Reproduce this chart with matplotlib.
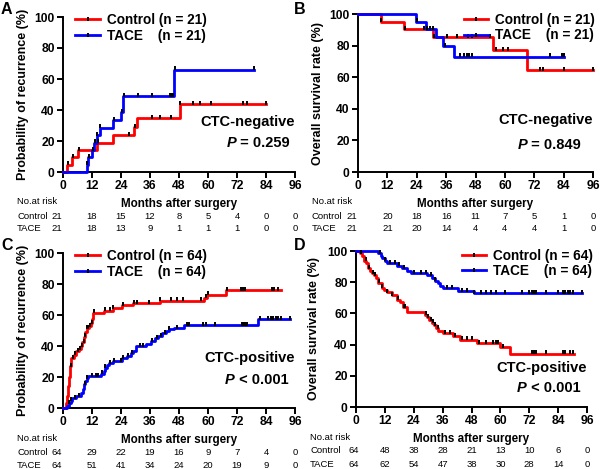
import numpy as np
import matplotlib
matplotlib.use("Agg")
from matplotlib import pyplot as plt
from matplotlib.lines import Line2D
from matplotlib import transforms

plt.rcParams['font.family'] = ['Liberation Sans', 'DejaVu Sans']

months_ticks = [0, 12, 24, 36, 48, 60, 72, 84, 96]

# A: recurrence, CTC-negative
a_ctrl_t = [0, 1.5, 3.8, 6.3, 14.2, 20.5, 29.5, 30.8, 48.3, 84]
a_ctrl_v = [0, 4.8, 9.5, 14.3, 19.0, 23.8, 29.0, 34.9, 43.6, 43.6]
a_ctrl_cens = [2, 4, 6.6, 14.3, 27.5, 29.8, 37, 40, 44.7, 48.5, 53.6, 56.7, 61.2, 74.6, 76, 84]
a_tace_t = [0, 9.8, 10.5, 12.1, 13.0, 13.9, 15.3, 20.8, 24.2, 25.0, 46.0, 79]
a_tace_v = [0, 4.8, 9.5, 14.3, 19.0, 23.8, 28.6, 33.3, 38.5, 49.0, 66.0, 66.0]
a_tace_cens = [10, 10.7, 12.3, 13.2, 14.1, 15.5, 21, 24.4, 25.2, 31, 37, 44.3, 45, 45.7, 46.4, 79]

# B: survival, CTC-negative
b_ctrl_t = [0, 9.3, 18.9, 30.8, 55.3, 68.9, 96]
b_ctrl_v = [100, 95.2, 90.5, 85.5, 77.2, 64.3, 64.3]
b_ctrl_cens = [9.5, 19.4, 27, 29.4, 31.2, 36.5, 40.4, 45.1, 46.5, 53.9, 56.3, 59.3, 61.3, 74.4, 75.6, 84.1, 96]
b_tace_t = [0, 23.7, 27.8, 31.9, 34.9, 39.2, 84.3]
b_tace_v = [100, 95.2, 90.5, 85.5, 79.5, 73.0, 73.0]
b_tace_cens = [24, 28, 30.5, 35.5, 41.5, 43.5, 44.5, 45.5, 46.5, 78.4, 83.3, 84.3]

# C: recurrence, CTC-positive
c_ctrl_t = [0, 1.2, 1.8, 2.2, 2.6, 3.0, 3.5, 4.5, 5.5, 6.5, 7.3, 8.0, 8.7, 9.3, 10.0,
            10.8, 11.5, 12.2, 12.6, 17.0, 20.5, 24.5, 29.0, 40.0, 58.5, 59.5, 67.5, 90]
c_ctrl_v = [0, 3, 8, 14, 20, 27, 32, 34.5, 36.5, 38, 40, 42.5, 46, 49, 51.5,
            53, 55, 57.5, 61.5, 62.8, 64.5, 66.2, 67.8, 69.3, 71.2, 73.2, 76.0, 76.0]
c_ctrl_cens = [3.3, 4, 5, 6, 7, 7.7, 8.5, 9.2, 10, 10.5, 11.3, 12, 12.8, 17.2, 19.5, 20.7,
               25, 29.5, 30.5, 35.5, 40.2, 44.5, 47, 49.5, 57, 59, 60, 68, 73.5, 74.5,
               75.5, 86.5, 87.5, 89]
c_tace_t = [0, 1.5, 2.5, 3.2, 3.8, 5.5, 7.5, 8.3, 8.8, 9.3, 9.8, 10.3, 15.8, 16.8, 17.5,
            18.3, 19.0, 20.5, 24.5, 26.5, 28.0, 29.0, 30.0, 34.5, 36.5, 38.0, 39.5, 41.0,
            42.5, 44.0, 46.0, 50.0, 80.8, 94]
c_tace_v = [0, 1.6, 3.2, 4.8, 6.3, 7.9, 9.5, 12.5, 15.5, 17.5, 19.2, 20.6, 22.2, 24.0, 26.0,
            27.6, 28.8, 30.4, 32.0, 33.6, 35.2, 37.0, 40.0, 41.6, 43.3, 45.0, 46.6, 48.2,
            49.8, 50.8, 51.6, 53.5, 57.2, 57.2]
c_tace_cens = [2.5, 3.5, 5, 6.5, 9, 10, 12, 13.5, 14.5, 16, 17.5, 19.5, 21, 24, 25, 27,
               28.5, 32, 33, 37, 39, 40.5, 42, 44, 47, 51.5, 52, 58, 59, 63, 74, 74.5, 75,
               75.5, 76, 81.5, 85, 86, 87, 88, 89, 90, 94]

# D: survival, CTC-positive
d_ctrl_t = [0, 1.7, 2.5, 3.3, 4.2, 5.1, 6.0, 6.8, 7.6, 8.4, 9.3, 10.7, 11.8, 12.8, 14.8,
            16.9, 18.3, 19.6, 21.0, 28.7, 29.6, 30.5, 31.5, 32.3, 33.2, 34.2, 36.0, 40.4,
            43.2, 50.1, 59.9, 64.0, 90.6]
d_ctrl_v = [100, 98.4, 96.9, 93.8, 92.2, 89.1, 87.5, 85.9, 84.4, 82.8, 79.7, 76.6, 75.0,
            73.4, 71.9, 68.8, 67.2, 64.0, 60.9, 59.2, 57.5, 55.8, 54.1, 52.4, 50.7, 48.9,
            47.2, 45.3, 43.2, 40.8, 38.5, 34.2, 34.2]
d_ctrl_cens = [2, 4, 5.5, 7, 8, 9.5, 11, 13, 15, 17.5, 19.8, 20.5, 29, 30, 31, 32, 33, 34,
               37, 39, 41, 44, 46, 48, 51, 54, 57, 58, 59, 61, 73, 74, 75, 79, 86, 87, 89, 90]
d_tace_t = [0, 9.3, 10.2, 11.0, 12.0, 13.0, 17.0, 19.0, 21.0, 23.0, 29.5, 31.5, 33.0, 34.0,
            35.0, 36.0, 42.5, 49.0, 94]
d_tace_v = [100, 98.4, 96.9, 95.3, 93.8, 92.2, 90.6, 89.1, 87.5, 85.9, 84.3, 82.6, 81.0,
            79.4, 77.8, 76.1, 74.5, 72.8, 72.8]
d_tace_cens = [10, 12, 14, 16, 18, 20, 24, 27, 29, 31, 33, 38, 40, 44, 46, 49, 52, 54, 56,
               58, 62, 69, 72, 73, 74, 75, 79, 84, 86, 87, 88, 89, 90, 94]

# numbers at risk
a_risk_ctrl = [21, 18, 15, 12, 8, 5, 4, 0, 0]
a_risk_tace = [21, 18, 13, 9, 1, 1, 1, 0, 0]
b_risk_ctrl = [21, 20, 18, 16, 11, 7, 5, 1, 0]
b_risk_tace = [21, 21, 20, 14, 4, 4, 4, 1, 0]
c_risk_ctrl = [64, 29, 22, 19, 16, 9, 7, 4, 0]
c_risk_tace = [64, 51, 41, 34, 24, 20, 19, 9, 0]
d_risk_ctrl = [64, 48, 38, 28, 21, 13, 10, 6, 0]
d_risk_tace = [64, 62, 54, 47, 38, 30, 28, 14, 0]

RED = '#ff0000'
BLUE = '#0000ff'

fig = plt.figure(figsize=(6, 4.69), dpi=100)
W, H = 600.0, 469.0


def px_axes(x0, x1, ytop, ybot):
    return fig.add_axes([x0 / W, 1 - ybot / H, (x1 - x0) / W, (ybot - ytop) / H])


def step_val(t, v, x):
    i = np.searchsorted(t, x, side='right') - 1
    return np.array(v)[np.clip(i, 0, len(v) - 1)]


def draw_curve(ax, t, v, cens, color):
    ax.step(t, v, where='post', color=color, lw=2.0, zorder=3, clip_on=False)
    ax.plot(cens, step_val(t, v, cens) + 0.8, ls='none', marker='|', ms=3.2, mew=1.4,
            color='black', zorder=4, clip_on=False)


def panel(ax, letter, ylab, curves, n, leg_loc, leg_anchor, grp, ptxt,
          grp_xy, p_xy, ylab_x, risk, risk_rows_y, label_x, first_col):
    for t, v, cens, color in curves:
        draw_curve(ax, t, v, cens, color)
    ax.set_xlim(0, 96)
    ax.set_ylim(0, 100)
    ax.set_xticks(months_ticks)
    ax.set_yticks([0, 20, 40, 60, 80, 100])
    for s in ['top', 'right']:
        ax.spines[s].set_visible(False)
    for s in ['left', 'bottom']:
        ax.spines[s].set_linewidth(1.4)
    ax.tick_params(direction='out', length=4, width=1.4, pad=2, labelsize=8.7)
    for lab in ax.get_xticklabels() + ax.get_yticklabels():
        lab.set_fontweight('bold')
    ax.set_ylabel(ylab, fontsize=9, fontweight='bold')
    ax.yaxis.set_label_coords(ylab_x, 0.5)

    handles = [Line2D([], [], color=RED, lw=2.0, marker='|', ms=3.2, mew=1.4, mec='black'),
               Line2D([], [], color=BLUE, lw=2.0, marker='|', ms=3.2, mew=1.4, mec='black')]
    labels = ['Control (n = %d)' % n, 'TACE    (n = %d)' % n]
    ax.legend(handles, labels, loc=leg_loc, bbox_to_anchor=leg_anchor, frameon=False,
              handlelength=1.8, handletextpad=0.5, labelspacing=0.1, borderaxespad=0,
              numpoints=1, prop={'weight': 'bold', 'size': 9.8})

    ax.text(grp_xy[0], grp_xy[1], grp, transform=ax.transAxes, ha='right', va='center',
            fontsize=10.5, fontweight='bold')
    ax.text(p_xy[0], p_xy[1], 'P', transform=ax.transAxes, ha='right', va='center',
            fontsize=10.5, fontweight='bold', fontstyle='italic')
    ax.text(p_xy[0], p_xy[1], ' ' + ptxt, transform=ax.transAxes, ha='left', va='center',
            fontsize=10.5, fontweight='bold')

    # panel letter
    fig.text(letter[1] / W, 1 - letter[2] / H, letter[0], ha='left', va='top',
             fontsize=11.5, fontweight='bold')

    # at-risk table
    tr = transforms.blended_transform_factory(ax.transData, fig.transFigure)
    y0, y1, y2 = [1 - y / H for y in risk_rows_y]
    fig.text(label_x / W, y0, 'No.at risk', ha='left', va='center', fontsize=6.8)
    ax.text(48, y0 - 0.005, 'Months after surgery', transform=tr, ha='center', va='center',
            fontsize=8.4, fontweight='bold')
    fig.text(label_x / W, y1, 'Control', ha='left', va='center', fontsize=6.8)
    fig.text(label_x / W, y2, 'TACE', ha='left', va='center', fontsize=6.8)
    xs = [first_col] + months_ticks[1:]
    for x, c, tc in zip(xs, risk[0], risk[1]):
        ax.text(x, y1, str(c), transform=tr, ha='center', va='center', fontsize=6.8)
        ax.text(x, y2, str(tc), transform=tr, ha='center', va='center', fontsize=6.8)


ax_a = px_axes(63, 295, 17, 172)
ax_b = px_axes(358, 593, 14, 172)
ax_c = px_axes(63, 295, 253, 408)
ax_d = px_axes(356, 587, 251, 407)

panel(ax_a, ('A', 1, 2), 'Probability of recurrence (%)',
      [(a_ctrl_t, a_ctrl_v, a_ctrl_cens, RED), (a_tace_t, a_tace_v, a_tace_cens, BLUE)],
      21, 'upper left', (0.03, 1.06), 'CTC-negative', '= 0.259', (1.0, 0.32), (0.746, 0.187),
      -0.145, (a_risk_ctrl, a_risk_tace), (202, 216, 228), 17, -2.6)

panel(ax_b, ('B', 294, 2), 'Overall survival rate (%)',
      [(b_ctrl_t, b_ctrl_v, b_ctrl_cens, RED), (b_tace_t, b_tace_v, b_tace_cens, BLUE)],
      21, 'upper right', (1.03, 1.04), 'CTC-negative', '= 0.849', (1.0, 0.33), (0.72, 0.17),
      -0.145, (b_risk_ctrl, b_risk_tace), (202, 216, 228), 312, -2.4)

panel(ax_c, ('C', 1, 238), 'Probability of recurrence (%)',
      [(c_ctrl_t, c_ctrl_v, c_ctrl_cens, RED), (c_tace_t, c_tace_v, c_tace_cens, BLUE)],
      64, 'upper left', (0.03, 1.06), 'CTC-positive', '< 0.001', (1.0, 0.32), (0.741, 0.18),
      -0.145, (c_risk_ctrl, c_risk_tace), (438, 452, 465), 17, -2.6)

panel(ax_d, ('D', 294, 238), 'Overall survival rate (%)',
      [(d_ctrl_t, d_ctrl_v, d_ctrl_cens, RED), (d_tace_t, d_tace_v, d_tace_cens, BLUE)],
      64, 'upper right', (1.05, 1.05), 'CTC-positive', '< 0.001', (1.0, 0.25), (0.74, 0.12),
      -0.155, (d_risk_ctrl, d_risk_tace), (437, 450, 464), 310, -1.0)

fig.savefig('out.png', dpi=100)
